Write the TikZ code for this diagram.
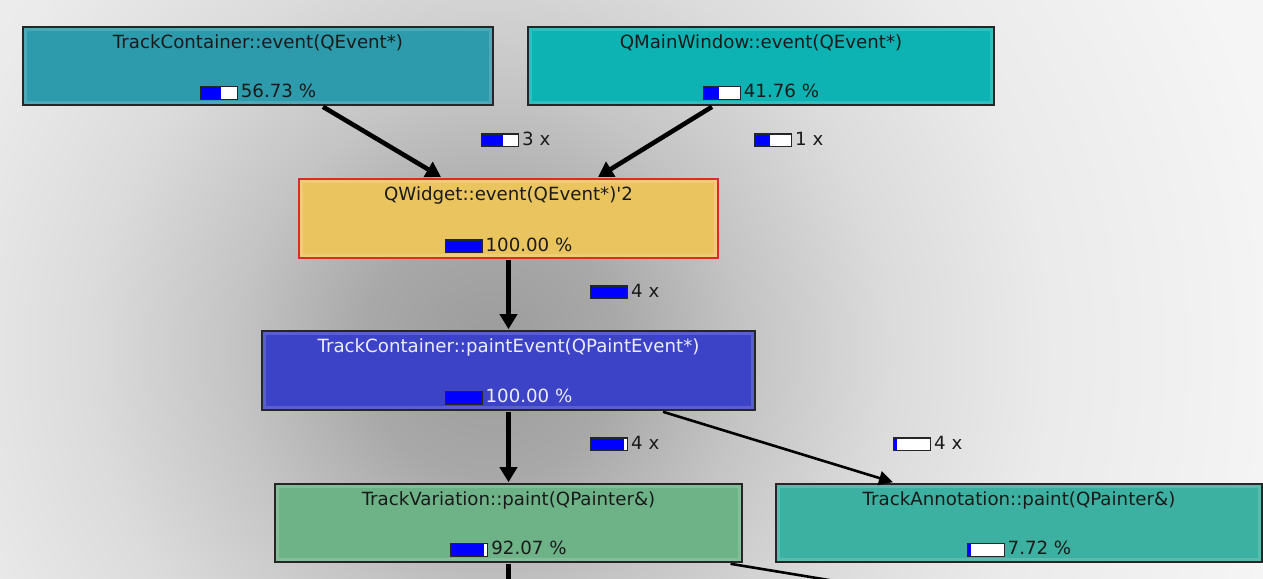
\documentclass[tikz,border=0pt]{standalone}
\usepackage{fontspec}
\setmainfont{DejaVu Sans}
\usetikzlibrary{arrows.meta}
\definecolor{cA}{HTML}{2E9BAC}
\definecolor{cB}{HTML}{0DB3B3}
\definecolor{cC}{HTML}{EAC55F}
\definecolor{cD}{HTML}{3C43C6}
\definecolor{cE}{HTML}{6EB388}
\definecolor{cF}{HTML}{3CB1A1}
\definecolor{cRed}{HTML}{E02A2A}
\definecolor{txt}{HTML}{1A1A1A}
\definecolor{txtD}{HTML}{ECECFF}
\definecolor{pblue}{HTML}{0000FF}
\definecolor{bgc0}{gray}{0.61}
\definecolor{bgc1}{gray}{0.66}
\definecolor{bgc2}{gray}{0.77}
\definecolor{bgc3}{gray}{0.86}
\definecolor{bgc4}{gray}{0.92}
\definecolor{bgc5}{gray}{0.96}
\pgfdeclareradialshading{bgshade}{\pgfpoint{0bp}{0bp}}{color(0bp)=(bgc0); color(4bp)=(bgc1); color(8bp)=(bgc2); color(12.5bp)=(bgc3); color(17.5bp)=(bgc4); color(25bp)=(bgc5); color(50bp)=(bgc5)}
\newcommand\pbar[1]{\raisebox{-1.2pt}{\setlength\fboxsep{0pt}\setlength\fboxrule{1.2pt}\fcolorbox{black!85}{white}{\textcolor{pblue}{\rule{#1}{11.6pt}}\hspace{\dimexpr35.6pt-#1\relax}}}\hspace{3pt}}
\begin{document}
\begin{tikzpicture}[x=1pt,y=-1pt,
  fbox/.style={draw=black!85, line width=1.6pt, inner sep=0pt,
    path picture={\draw[white,opacity=0.15,line width=3pt]
      ([shift={(2.5pt,-2.5pt)}]path picture bounding box.north west) rectangle
      ([shift={(-2.5pt,2.5pt)}]path picture bounding box.south east);}},
  ttl/.style={inner sep=0pt, text=txt, font=\fontsize{18.2}{21}\selectfont},
  pct/.style={inner sep=0pt, text=txt, font=\fontsize{18.2}{21}\selectfont},
  elab/.style={inner sep=0pt, text=txt, font=\fontsize{18.2}{21}\selectfont},
  edge/.style={line width=4.6pt, draw=black, -{Triangle[length=15pt,width=17pt]}},
  thinedge/.style={line width=2.6pt, draw=black, -{Triangle[length=14pt,width=14pt]}},
  stub/.style={line width=4.6pt, draw=black},
  thinstub/.style={line width=2.6pt, draw=black}]
\useasboundingbox (0,0) rectangle (1263,578);
\clip (0,0) rectangle (1263,578);
\shade[shading=bgshade] (-310,-450) rectangle (1290,1150);

% nodes
\node[fbox, fill=cA, minimum width=470pt, minimum height=78pt] (A) at (258,66) {};
\node[fbox, fill=cB, minimum width=466pt, minimum height=78pt] (B) at (761,66) {};
\node[fbox, fill=cC, draw=cRed, line width=2pt, minimum width=419pt, minimum height=79pt] (C) at (508.5,218.5) {};
\node[fbox, fill=cD, minimum width=493pt, minimum height=79pt] (D) at (508.5,370.5) {};
\node[fbox, fill=cE, minimum width=467pt, minimum height=78pt] (E) at (508.5,523) {};
\node[fbox, fill=cF, minimum width=486pt, minimum height=78pt] (F) at (1019,523) {};

% titles
\node[ttl, anchor=base] (At) at ([yshift=-22pt]A.north) {TrackContainer::event(QEvent*)};
\node[ttl, anchor=base] (Bt) at ([yshift=-22pt]B.north) {QMainWindow::event(QEvent*)};
\node[ttl, anchor=base] (Ct) at ([yshift=-22pt]C.north) {QWidget::event(QEvent*)\textquotesingle2};
\node[ttl, anchor=base, text=txtD] (Dt) at ([yshift=-22pt]D.north) {TrackContainer::paintEvent(QPaintEvent*)};
\node[ttl, anchor=base] (Et) at ([yshift=-22pt]E.north) {TrackVariation::paint(QPainter\&)};
\node[ttl, anchor=base] (Ft) at ([yshift=-22pt]F.north) {TrackAnnotation::paint(QPainter\&)};

% percentages
\node[pct, anchor=base] (Ap) at ([yshift=8pt]A.south) {\pbar{20.2pt}56.73 \%};
\node[pct, anchor=base] (Bp) at ([yshift=8pt]B.south) {\pbar{14.9pt}41.76 \%};
\node[pct, anchor=base] (Cp) at ([yshift=8pt]C.south) {\pbar{35.6pt}100.00 \%};
\node[pct, anchor=base, text=txtD] (Dp) at ([yshift=8pt]D.south) {\pbar{35.6pt}100.00 \%};
\node[pct, anchor=base] (Ep) at ([yshift=8pt]E.south) {\pbar{32.8pt}92.07 \%};
\node[pct, anchor=base] (Fp) at ([yshift=8pt]F.south) {\pbar{2.75pt}7.72 \%};

% edges
\draw[edge] ([xshift=65pt,yshift=-1pt]A.south) -- ([xshift=-67.5pt,yshift=1pt]C.north);
\draw[edge] ([xshift=-49pt,yshift=-1pt]B.south) -- ([xshift=89.5pt,yshift=1pt]C.north);
\draw[edge] ([yshift=-1pt]C.south) -- ([yshift=1pt]D.north);
\draw[edge] ([yshift=-1pt]D.south) -- ([yshift=1pt]E.north);
\draw[thinedge] ([xshift=154.5pt,yshift=-1pt]D.south) -- ([xshift=-126pt,yshift=1pt]F.north);
\coordinate (Eo1) at (508.5,600);
\coordinate (Eo2) at (950,600);
\draw[stub] ([yshift=-1pt]E.south) -- (Eo1);
\draw[thinstub] ([xshift=222pt,yshift=-1pt]E.south) -- (Eo2);

% edge labels
\node[elab, anchor=base west] (L1) at (481,145) {\pbar{20.2pt}3 x};
\node[elab, anchor=base west] (L2) at (754,145) {\pbar{14.9pt}1 x};
\node[elab, anchor=base west] (L3) at (590,297) {\pbar{35.6pt}4 x};
\node[elab, anchor=base west] (L4) at (590,449) {\pbar{32.8pt}4 x};
\node[elab, anchor=base west] (L5) at (893,449) {\pbar{2.75pt}4 x};
\end{tikzpicture}
\end{document}
